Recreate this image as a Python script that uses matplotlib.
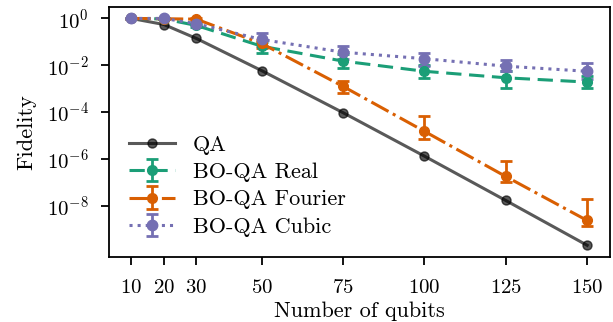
import numpy as np
import matplotlib
matplotlib.use('Agg')
import matplotlib.pyplot as plt
from matplotlib.ticker import NullLocator

plt.rcParams['font.family'] = ['cmr10', 'DejaVu Serif']
plt.rcParams['mathtext.fontset'] = 'cm'
plt.rcParams['axes.formatter.use_mathtext'] = True
plt.rcParams['font.size'] = 16

# data
qubits = [10, 20, 30, 50, 75, 100, 125, 150]

qa = [1.0, 0.55, 0.139, 5.9e-3, 9.4e-5, 1.3e-6, 1.65e-8, 2.0e-10]

real = [1.0, 0.95, 0.5, 0.065, 0.015, 5.5e-3, 2.9e-3, 1.9e-3]
real_lo = [0.97, 0.9, 0.42, 0.034, 7.8e-3, 2.9e-3, 1.07e-3, 1.07e-3]
real_hi = [1.0, 1.0, 0.6, 0.1, 0.029, 0.0107, 5.5e-3, 3.4e-3]

fourier = [1.0, 0.97, 0.93, 0.085, 1.25e-3, 1.5e-5, 1.75e-7, 2.3e-9]
fourier_lo = [0.97, 0.92, 0.85, 0.055, 6.5e-4, 6.9e-6, 1.0e-7, 1.35e-9]
fourier_hi = [1.0, 1.0, 1.0, 0.12, 2.2e-3, 6.9e-5, 7.7e-7, 2.0e-8]

cubic = [1.0, 1.0, 0.59, 0.126, 0.036, 0.019, 9.1e-3, 5.5e-3]
cubic_lo = [0.97, 0.95, 0.5, 0.065, 0.0186, 9.1e-3, 5.5e-3, 2.45e-3]
cubic_hi = [1.0, 1.0, 0.7, 0.23, 0.069, 0.032, 0.0162, 0.0126]

fig = plt.figure(figsize=(6.13, 3.22), dpi=100)
ax = fig.add_axes([0.177, 0.203, 0.818, 0.775])

ax.plot(qubits, qa, '-o', color='black', alpha=0.65, lw=2.2, ms=6.5, label='QA')

def err(v, lo, hi):
    v = np.array(v)
    return [v - np.array(lo), np.array(hi) - v]

ax.errorbar(qubits, real, yerr=err(real, real_lo, real_hi), fmt='o', ls='--',
            color='#1b9e77', lw=2.2, ms=7, capsize=4, capthick=2, elinewidth=2,
            dashes=(5, 2.5), label='BO-QA Real')
ax.errorbar(qubits, fourier, yerr=err(fourier, fourier_lo, fourier_hi), fmt='o', ls='-.',
            color='#d95f02', lw=2.2, ms=7, capsize=4, capthick=2, elinewidth=2,
            label='BO-QA Fourier')
ax.errorbar(qubits, cubic, yerr=err(cubic, cubic_lo, cubic_hi), fmt='o', ls=':',
            color='#7570b3', lw=2.2, ms=7.5, capsize=4, capthick=2, elinewidth=2,
            label='BO-QA Cubic')

ax.set_yscale('log')
ax.set_yticks([1e0, 1e-2, 1e-4, 1e-6, 1e-8])
ax.yaxis.set_minor_locator(NullLocator())
ax.set_xticks(qubits)
ax.set_xlabel('Number of qubits', fontsize=16, labelpad=3)
ax.set_ylabel('Fidelity', fontsize=16, labelpad=8)
for s in ax.spines.values():
    s.set_linewidth(1.3)
ax.tick_params(length=6, width=1.3, labelsize=15)
ax.tick_params(axis='x', pad=10)
ax.tick_params(axis='y', pad=8)

ax.legend(loc='lower left', frameon=False, handlelength=2.1, fontsize=16,
          labelspacing=0.35, borderaxespad=0.5)

fig.savefig('out.png', dpi=100)
